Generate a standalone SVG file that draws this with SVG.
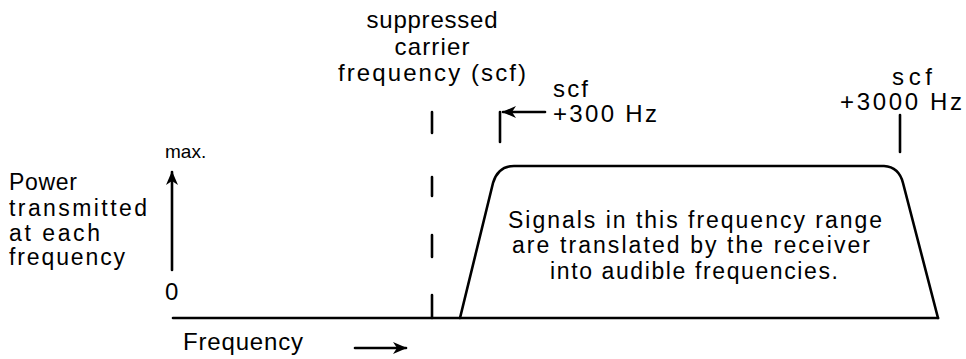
<svg xmlns="http://www.w3.org/2000/svg" width="966" height="359" viewBox="0 0 966 359">
<style>
text{font-family:"Liberation Sans",Arial,sans-serif;fill:#000;font-size:24px}
.ln{stroke:#000;stroke-width:2.6;fill:none;stroke-linecap:round}
.box{font-size:23px}
.lab{font-size:23px}
.mid{text-anchor:middle}
</style>
<defs>
<marker id="ah" viewBox="0 0 14 12" refX="13" refY="6" markerWidth="14" markerHeight="12" markerUnits="userSpaceOnUse" orient="auto">
<path d="M0,0 L14,6 L0,12 L4,6 Z" fill="#000"/>
</marker>
</defs>
<rect width="966" height="359" fill="#fff"/>
<g id="axis-label">
<text class="lab" x="9" y="190" textLength="68" lengthAdjust="spacing">Power</text>
<text class="lab" x="9" y="216" textLength="138" lengthAdjust="spacing">transmitted</text>
<text class="lab" x="9" y="241" textLength="91" lengthAdjust="spacing">at each</text>
<text class="lab" x="9" y="265" textLength="116" lengthAdjust="spacing">frequency</text>
</g>
<g id="y-axis">
<text x="165" y="158" style="font-size:19px">max.</text>
<text x="165" y="300" style="font-size:24px">0</text>
</g>
<g id="x-axis">
<text x="183" y="350" textLength="120" lengthAdjust="spacing">Frequency</text>
</g>
<g id="scf-label">
<text class="mid" x="432" y="28" textLength="131" lengthAdjust="spacing">suppressed</text>
<text class="mid" x="432" y="55" textLength="75" lengthAdjust="spacing">carrier</text>
<text class="mid" x="432" y="81" textLength="188" lengthAdjust="spacing">frequency (scf)</text>
</g>
<g id="scf300-label">
<text x="553" y="97" textLength="35" lengthAdjust="spacing">scf</text>
<text x="553" y="122" textLength="104" lengthAdjust="spacing">+300 Hz</text>
</g>
<g id="scf3000-label">
<text x="892" y="85" textLength="40" lengthAdjust="spacing">scf</text>
<text x="840" y="110" textLength="122" lengthAdjust="spacing">+3000 Hz</text>
</g>
<g id="band">
<path class="ln" d="M460,318 L493,183 Q498,166 514,166 L884,166 Q899,167 903,183 L938,318"/>
<text class="box mid" x="695" y="228" textLength="374" lengthAdjust="spacing">Signals in this frequency range</text>
<text class="box mid" x="691" y="253" textLength="358" lengthAdjust="spacing">are translated by the receiver</text>
<text class="box mid" x="694" y="279" textLength="288" lengthAdjust="spacing">into audible frequencies.</text>
</g>
<g id="connectors">
<path class="ln" d="M173,318 H938"/>
<path class="ln" d="M432,112 V133 M432,177 V196 M432,235 V257 M432,295 V318"/>
<path class="ln" d="M172,270 V172" marker-end="url(#ah)"/>
<path class="ln" d="M355,348 H406" marker-end="url(#ah)"/>
<path class="ln" d="M500,112 V142"/>
<path class="ln" d="M545,112 H503" marker-end="url(#ah)"/>
<path class="ln" d="M900,115 V152"/>
</g>
</svg>
